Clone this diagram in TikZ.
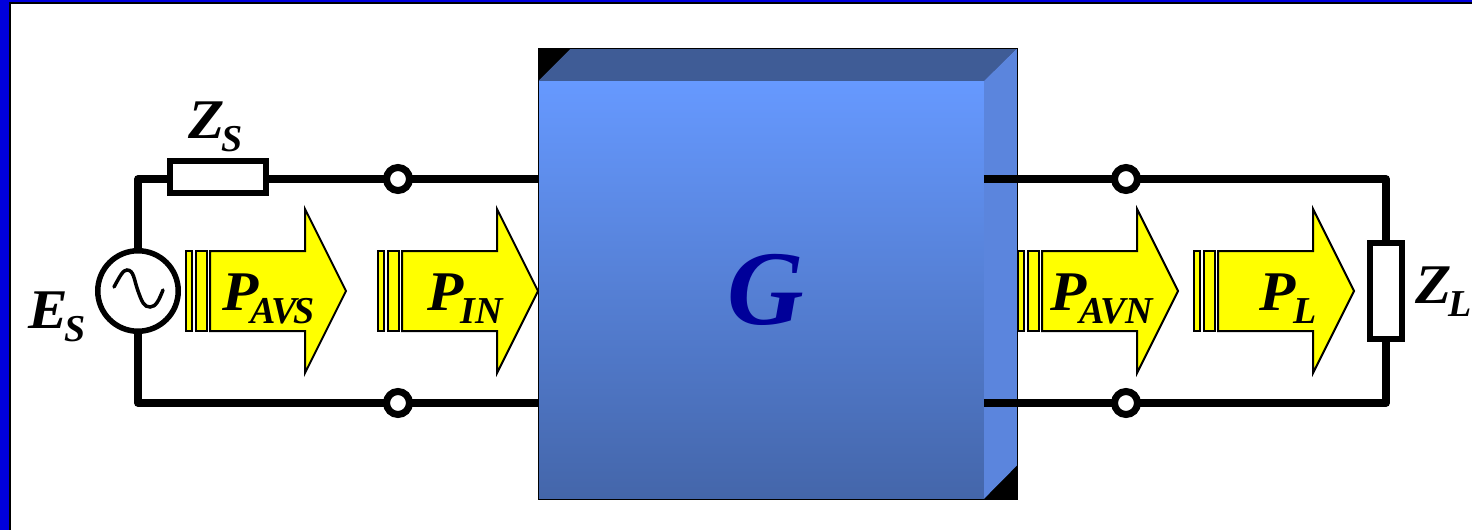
\documentclass[tikz,border=0pt]{standalone}
\usepackage{fontspec}
\setmainfont{Liberation Serif}
\definecolor{frameblue}{HTML}{0000DD}
\definecolor{facetop}{HTML}{6699FF}
\definecolor{facebot}{HTML}{4466AA}
\definecolor{bevtop}{HTML}{3F5C96}
\definecolor{bevright}{HTML}{5B85DD}
\definecolor{gtext}{HTML}{000099}
\definecolor{arrowyellow}{HTML}{FFFF00}
\newcommand{\symb}[3]{\scalebox{1.06}[1]{\fontsize{56}{56}\selectfont #1}\kern#3\raisebox{-13pt}{\fontsize{38}{38}\selectfont #2}}
\newcommand{\powerarrow}[1]{%
  \begin{scope}[xshift=#1pt]
    \draw[parrow] (210,251) -- (305,251) -- (305,209) -- (346,291) -- (305,373) -- (305,331) -- (210,331) -- cycle;
    \draw[parrow] (185.5,251) rectangle (191.5,331);
    \draw[parrow] (195.5,251) rectangle (206.5,331);
  \end{scope}}
\tikzset{
  x=1pt,y=-1pt,
  wire/.style={line width=7.5pt,line join=round},
  parrow/.style={draw=black,fill=arrowyellow,line width=2pt,line join=miter},
  terminal/.style={circle,draw=black,fill=white,line width=7pt,minimum size=23pt,inner sep=0pt,outer sep=0pt},
  impedance/.style={rectangle,draw=black,fill=white,line width=6pt,inner sep=0pt,outer sep=0pt},
  label/.style={anchor=base west,inner sep=0pt,outer sep=0pt,font=\bfseries\itshape,text=black},
}
\begin{document}
\begin{tikzpicture}
\useasboundingbox (0,0) rectangle (1472,530);
\fill[white] (0,0) rectangle (1472,530);
% frame
\fill[black] (9,2) rectangle (1472,4);
\fill[black] (9,2) rectangle (11,530);
\fill[frameblue] (0,0) rectangle (1472,2);
\fill[frameblue] (0,0) rectangle (9,530);
% block G
\fill[black] (538.4,48) rectangle (1017.4,499);
\fill[bevtop] (538.4,81) -- (571.4,48) -- (1017.4,48) -- (983.8,81) -- cycle;
\fill[bevright] (983.8,81) -- (1017.4,48) -- (1017.4,465) -- (983.8,499) -- cycle;
\node[rectangle,top color=facetop,bottom color=facebot,minimum width=445.4pt,minimum height=418pt,inner sep=0pt,outer sep=0pt] (G) at (761.1,290) {};
\draw[black,line width=0.8pt] (538.4,48) rectangle (1017.4,499);
\node[anchor=base,inner sep=0pt,font=\bfseries\itshape\fontsize{106}{106}\selectfont,text=gtext] (Glabel) at (766,324) {G};
% components
\node[circle,draw=black,fill=white,line width=5.5pt,minimum size=80.5pt,inner sep=0pt,outer sep=0pt] (src) at (138,291) {};
\node[impedance,minimum width=96pt,minimum height=32pt] (zs) at (218,177) {};
\node[impedance,minimum width=32pt,minimum height=96pt] (zl) at (1386,291) {};
\node[terminal] (t1) at (398,179) {};
\node[terminal] (t2) at (398,403) {};
\node[terminal] (t3) at (1126,179) {};
\node[terminal] (t4) at (1126,403) {};
% wires
\draw[wire] (src.north) -- (src.north |- t1) -- (zs.west |- t1);
\draw[wire] (zs.east |- t1) -- (t1.west);
\draw[wire] (t1.east) -- (t1 -| G.west);
\draw[wire] (src.south) -- (src.south |- t2) -- (t2.west);
\draw[wire] (t2.east) -- (t2 -| G.west);
\draw[wire] (t3 -| G.east) -- (t3.west);
\draw[wire] (t4 -| G.east) -- (t4.west);
\draw[wire] (t3.east) -- (t3 -| zl.north) -- (zl.north);
\draw[wire] (t4.east) -- (t4 -| zl.south) -- (zl.south);
% sine glyph
\draw[black,line width=3.5pt,line cap=round] (114,287) .. controls (120,276) and (123,270) .. (127,270) .. controls (134,270) and (134,280) .. (138,291) .. controls (142,302) and (144,307) .. (150,307) .. controls (156,307) and (159,300) .. (163,290);
% power arrows
\powerarrow{0}
\powerarrow{192}
\powerarrow{832}
\powerarrow{1008}
% labels
\node[label] (lzs) at (188,138) {\symb{Z}{S}{-3pt}};
\node[label] (les) at (28,328) {\symb{E}{S}{-3pt}};
\node[label] (lzl) at (1415,303) {\symb{Z}{L}{-3pt}};
\node[label] (lpavs) at (222,310) {\symb{P}{A\kern-4pt V\kern-3pt S}{-8pt}};
\node[label] (lpin) at (427,310) {\symb{P}{IN}{-3pt}};
\node[label] (lpavn) at (1050,310) {\symb{P}{A\kern-4pt VN}{-7pt}};
\node[label] (lpl) at (1259,310) {\symb{P}{L}{-2pt}};
\end{tikzpicture}
\end{document}
